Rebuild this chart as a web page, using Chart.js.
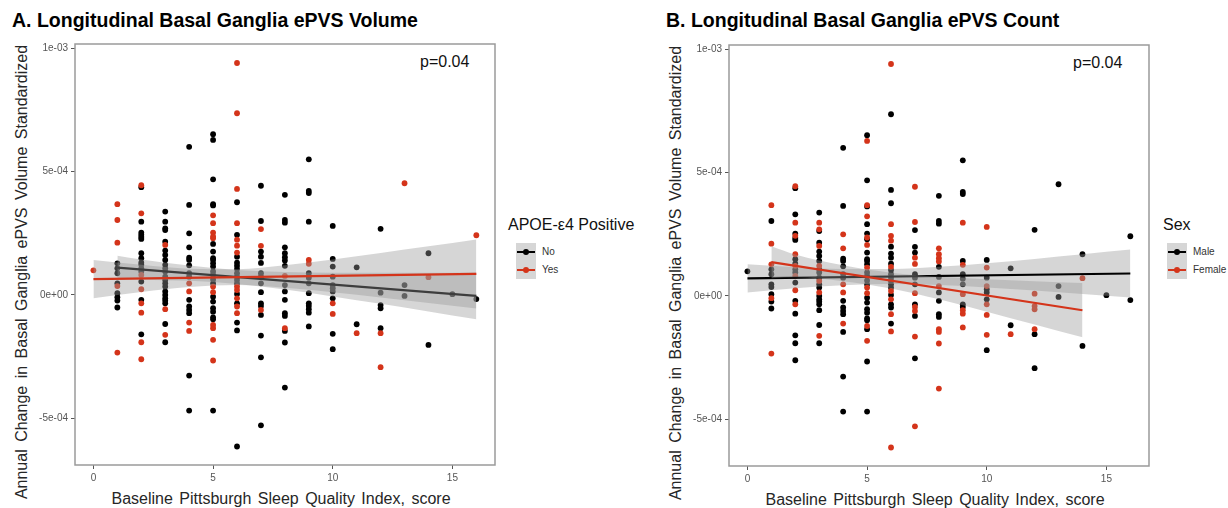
<!DOCTYPE html>
<html>
<head>
<meta charset="utf-8">
<script src="https://cdn.jsdelivr.net/npm/chart.js@4.4.0/dist/chart.umd.min.js"></script>
<style>
html,body{margin:0;padding:0;background:#fff;}
body{width:1228px;height:508px;position:relative;overflow:hidden;font-family:"Liberation Sans",Arial,sans-serif;}
.abs{position:absolute;white-space:nowrap;line-height:1;}
.title{font-weight:bold;font-size:19.5px;color:#000;}
.axt{font-size:16px;color:#262626;word-spacing:2px;text-align:center;}
.ptxt{font-size:16px;color:#111;}
.legt{font-size:16px;color:#111;}
.legl{font-size:10px;color:#333;}
.keybox{background:#d6d6d6;}
.kline{height:2px;}
.kdot{width:6px;height:6px;border-radius:50%;}
canvas{position:absolute;}
</style>
</head>
<body>
<!-- Panel A texts -->
<div class="abs title" style="left:12px;top:11px;">A. Longitudinal Basal Ganglia ePVS Volume</div>
<div class="abs axt" style="left:-228px;top:264px;width:500px;transform:rotate(-90deg);word-spacing:3px;">Annual Change in Basal Ganglia ePVS Volume Standardized</div>
<div class="abs axt" style="left:31px;top:491px;width:500px;">Baseline Pittsburgh Sleep Quality Index, score</div>
<div class="abs ptxt" style="left:420px;top:54px;">p=0.04</div>
<div class="abs legt" style="left:508px;top:217px;">APOE-ε4 Positive</div>
<div class="abs keybox" style="left:516px;top:243px;width:20px;height:36px;"></div>
<div class="abs kline" style="left:517px;top:251px;width:18px;background:#000;"></div>
<div class="abs kdot" style="left:523px;top:249px;background:#000;"></div>
<div class="abs kline" style="left:517px;top:269px;width:18px;background:#d4341a;"></div>
<div class="abs kdot" style="left:523px;top:267px;background:#d4341a;"></div>
<div class="abs legl" style="left:542px;top:247px;">No</div>
<div class="abs legl" style="left:542px;top:265px;">Yes</div>

<!-- Panel B texts -->
<div class="abs title" style="left:666px;top:11px;">B. Longitudinal Basal Ganglia ePVS Count</div>
<div class="abs axt" style="left:426px;top:265px;width:500px;transform:rotate(-90deg);word-spacing:3px;">Annual Change in Basal Ganglia ePVS Volume Standardized</div>
<div class="abs axt" style="left:685px;top:492px;width:500px;">Baseline Pittsburgh Sleep Quality Index, score</div>
<div class="abs ptxt" style="left:1073px;top:55px;">p=0.04</div>
<div class="abs legt" style="left:1163px;top:217px;">Sex</div>
<div class="abs keybox" style="left:1167px;top:243px;width:20px;height:36px;"></div>
<div class="abs kline" style="left:1168px;top:251px;width:18px;background:#000;"></div>
<div class="abs kdot" style="left:1174px;top:249px;background:#000;"></div>
<div class="abs kline" style="left:1168px;top:269px;width:18px;background:#d4341a;"></div>
<div class="abs kdot" style="left:1174px;top:267px;background:#d4341a;"></div>
<div class="abs legl" style="left:1193px;top:247px;">Male</div>
<div class="abs legl" style="left:1193px;top:265px;">Female</div>

<canvas id="chartA" width="480" height="474" style="left:25px;top:34px;"></canvas>
<canvas id="chartB" width="480" height="474" style="left:679px;top:35px;"></canvas>

<script>
// ---------------- DATA ----------------
// Values are annual change in units of 1e-4; list index = baseline PSQI score (0..16)
const UNIT = 1e-4;
const psqiTicks = [0, 5, 10, 15];
const changeTicks = [-5e-4, 0, 5e-4, 1e-3];
const changeTickLabels = ['-5e-04', '0e+00', '5e-04', '1e-03'];

const apoeNoMale = [
  [],
  [1.08, 0.88, 0.47, 0.07, -0.23, -0.51],
  [4.37, 2.53, 2.35, 2.27, 1.49, 1.31, 1.08, 0.95, 0.54, -0.20, -1.60],
  [3.38, 2.63, 2.16, 1.80, 1.62, 1.42, 1.08, 0.95, 0.74, 0.47, 0.34, 0.00, -0.14, -0.23, -0.34, -1.18, -1.92],
  [6.01, 3.65, 1.51, 1.42, 1.20, 0.88, 0.74, -0.20, -0.47, -0.61, -0.74, -3.27, -4.69],
  [6.52, 4.69, 3.63, 1.76, 1.49, 1.42, 1.28, 0.95, 0.81, 0.63, 0.47, -0.07, -0.27, -0.54, -0.68, -0.91, -0.99, -4.69],
  [3.76, 1.55, 1.31, 1.05, 0.88, 0.74, 0.61, 0.47, 0.04, -0.34, -1.12],
  [1.76, 0.88, 0.74, 0.47, -0.34, -0.81, -2.53],
  [4.06, 3.04, 2.93, 1.18, 0.14, -0.20, -0.74, -0.85],
  [5.50, 4.22, 4.13, 0.88, 0.70, 0.47, -0.34, -0.45],
  [1.46, 0.74, 0.27, 0.14, -0.14, -2.20],
  [1.12, -1.19],
  [2.68],
  [0.40, -0.04],
  [1.69, -2.03],
  [0.03],
  [-0.17]
];
const apoeNoFemale = [
  [],
  [1.28, -0.09],
  [2.97, 2.44, 1.69, 1.22],
  [2.97, 2.70, 1.22, 0.61, 0.14],
  [2.50, 1.93],
  [6.29, 3.68, 2.07, 1.15],
  [2.44, 1.18, -1.44, -6.15],
  [4.43, 3.00, 1.55, 1.30, 0.11, -0.45, -1.65, -5.29],
  [1.93, 1.69, 1.53, 1.40, 0.40, -1.46, -1.93, -3.76],
  [2.97, 0.07, -0.58, -0.72, -1.28],
  [2.80, 1.15, 0.40, -1.58],
  [],
  [0.09, -0.41, -0.54, -1.35],
  [], [], [], []
];
const apoeYesMale = [
  [1.00],
  [3.04, 0.36],
  [3.31, -0.72, -1.92, -2.61],
  [-0.58],
  [-1.46],
  [2.91, 2.53, 2.30, -1.35, -2.66],
  [7.37, 4.30, 2.00, 1.72, 0.34, -0.47],
  [2.67, 1.99],
  [0.77],
  [1.42],
  [],
  [],
  [-1.55, -2.93],
  [4.53],
  [],
  [],
  [2.42]
];
const apoeYesFemale = [
  [],
  [3.68, 2.12, -2.34],
  [4.45, 0.81, 0.23, -0.34],
  [2.03, -1.62],
  [0.47, 0.14, -1.12],
  [3.23, 2.37, 0.34, 0.11, -1.22, -1.82],
  [9.41, 2.91, 2.24, 0.20, -0.14, -0.74],
  [-0.61],
  [-1.35],
  [1.26],
  [-0.34, -0.77],
  [-1.55],
  [],
  [],
  [0.72],
  [],
  []
];

// Fitted lines (endpoints) and 95% CI bands, units of 1e-4
const fitApoeNoX = [1, 16],   fitApoeNoY = [1.11, -0.04];
const fitApoeYesX = [0, 16],  fitApoeYesY = [0.64, 0.85];
const fitMaleX = [0, 16],     fitMaleY = [0.71, 0.91];
const fitFemaleX = [1, 14],   fitFemaleY = [1.37, -0.58];

const bandApoeNoX = [1, 2, 4, 6, 8, 10, 12, 14, 16];
const bandApoeNoLow = [0.63, 0.62, 0.57, 0.44, 0.22, -0.06, -0.36, -0.67, -0.99];
const bandApoeNoHigh = [1.59, 1.44, 1.19, 1.01, 0.93, 0.90, 0.90, 0.90, 0.91];
const bandApoeYesX = [0, 2, 4, 6, 8, 10, 12, 14, 16];
const bandApoeYesLow = [-0.14, 0.12, 0.32, 0.40, 0.29, 0.11, -0.10, -0.33, -0.55];
const bandApoeYesHigh = [1.42, 1.22, 1.06, 1.04, 1.20, 1.44, 1.70, 1.97, 2.25];
const bandMaleX = [0, 2, 4, 6, 8, 10, 12, 14, 16];
const bandMaleLow = [0.14, 0.31, 0.43, 0.48, 0.44, 0.34, 0.22, 0.08, -0.06];
const bandMaleHigh = [1.28, 1.16, 1.09, 1.09, 1.18, 1.33, 1.50, 1.69, 1.88];
const bandFemaleX = [1, 2, 4, 6, 8, 10, 12, 14];
const bandFemaleLow = [0.72, 0.76, 0.60, 0.30, -0.14, -0.64, -1.16, -1.68];
const bandFemaleHigh = [2.02, 1.68, 1.24, 0.94, 0.78, 0.68, 0.60, 0.52];

// ---------------- BUILD ----------------
const BLACK = '#000000';
const RED = '#d4341a';
const BAND = 'rgba(153,153,153,0.4)';
const FONT = '"Liberation Sans", Arial, sans-serif';

function toPoints(...groups) {
  const pts = [];
  groups.forEach(g => g.forEach((col, score) => col.forEach(v => pts.push({x: score, y: v * UNIT}))));
  return pts;
}
function xy(xs, ys) { return xs.map((x, i) => ({x: x, y: ys[i] * UNIT})); }

const framePlugin = {
  id: 'frame',
  afterDraw(chart) {
    const {ctx, chartArea: a} = chart;
    ctx.save();
    ctx.strokeStyle = '#9a9a9a';
    ctx.lineWidth = 1.5;
    ctx.strokeRect(a.left, a.top, a.right - a.left, a.bottom - a.top);
    ctx.restore();
  }
};

function bandSets(xs, lo, hi, order) {
  return [
    {type: 'line', data: xy(xs, hi), borderColor: 'rgba(0,0,0,0)', borderWidth: 0, pointRadius: 0,
     fill: '+1', backgroundColor: BAND, cubicInterpolationMode: 'monotone', order: order},
    {type: 'line', data: xy(xs, lo), borderColor: 'rgba(0,0,0,0)', borderWidth: 0, pointRadius: 0,
     fill: false, cubicInterpolationMode: 'monotone', order: order}
  ];
}
function lineSet(xs, ys, color, order) {
  return {type: 'line', data: xy(xs, ys), borderColor: color, borderWidth: 2.2, pointRadius: 0,
          fill: false, order: order};
}
function pointSet(pts, color, order) {
  return {type: 'scatter', data: pts, backgroundColor: color, borderWidth: 0, pointRadius: 2.9,
          pointHoverRadius: 2.9, order: order};
}

function makePanel(id, blackPts, redPts, g1, g2) {
  const datasets = [
    pointSet(blackPts, BLACK, 10),
    pointSet(redPts, RED, 9),
    ...bandSets(g1.bx, g1.lo, g1.hi, 8),
    lineSet(g1.fx, g1.fy, BLACK, 7),
    ...bandSets(g2.bx, g2.lo, g2.hi, 6),
    lineSet(g2.fx, g2.fy, RED, 5)
  ];
  new Chart(document.getElementById(id), {
    type: 'scatter',
    data: {datasets: datasets},
    plugins: [framePlugin],
    options: {
      responsive: false, animation: false, devicePixelRatio: 1,
      layout: {padding: {top: 10, right: 10, left: 0, bottom: 0}},
      plugins: {legend: {display: false}, tooltip: {enabled: false}},
      scales: {
        x: {
          type: 'linear', min: -0.77, max: 16.78,
          afterBuildTicks: s => { s.ticks = psqiTicks.map(v => ({value: v})); },
          afterFit: s => { s.height = 43; },
          grid: {drawOnChartArea: false, drawTicks: true, tickLength: 4, color: '#555', lineWidth: 1},
          border: {display: false},
          ticks: {color: '#555', font: {size: 10, family: FONT}, padding: 3, maxRotation: 0, autoSkip: false}
        },
        y: {
          type: 'linear', min: -6.9 * UNIT, max: 10.18 * UNIT,
          afterBuildTicks: s => { s.ticks = changeTicks.map(v => ({value: v})); },
          afterFit: s => { s.width = 50; },
          grid: {drawOnChartArea: false, drawTicks: true, tickLength: 4, color: '#555', lineWidth: 1},
          border: {display: false},
          ticks: {color: '#555', font: {size: 10, family: FONT}, padding: 3, autoSkip: false,
                  callback: (v, i) => changeTickLabels[i]}
        }
      }
    }
  });
}

makePanel('chartA',
  toPoints(apoeNoMale, apoeNoFemale),
  toPoints(apoeYesMale, apoeYesFemale),
  {bx: bandApoeNoX, lo: bandApoeNoLow, hi: bandApoeNoHigh, fx: fitApoeNoX, fy: fitApoeNoY},
  {bx: bandApoeYesX, lo: bandApoeYesLow, hi: bandApoeYesHigh, fx: fitApoeYesX, fy: fitApoeYesY});

makePanel('chartB',
  toPoints(apoeNoMale, apoeYesMale),
  toPoints(apoeNoFemale, apoeYesFemale),
  {bx: bandMaleX, lo: bandMaleLow, hi: bandMaleHigh, fx: fitMaleX, fy: fitMaleY},
  {bx: bandFemaleX, lo: bandFemaleLow, hi: bandFemaleHigh, fx: fitFemaleX, fy: fitFemaleY});
</script>
</body>
</html>
